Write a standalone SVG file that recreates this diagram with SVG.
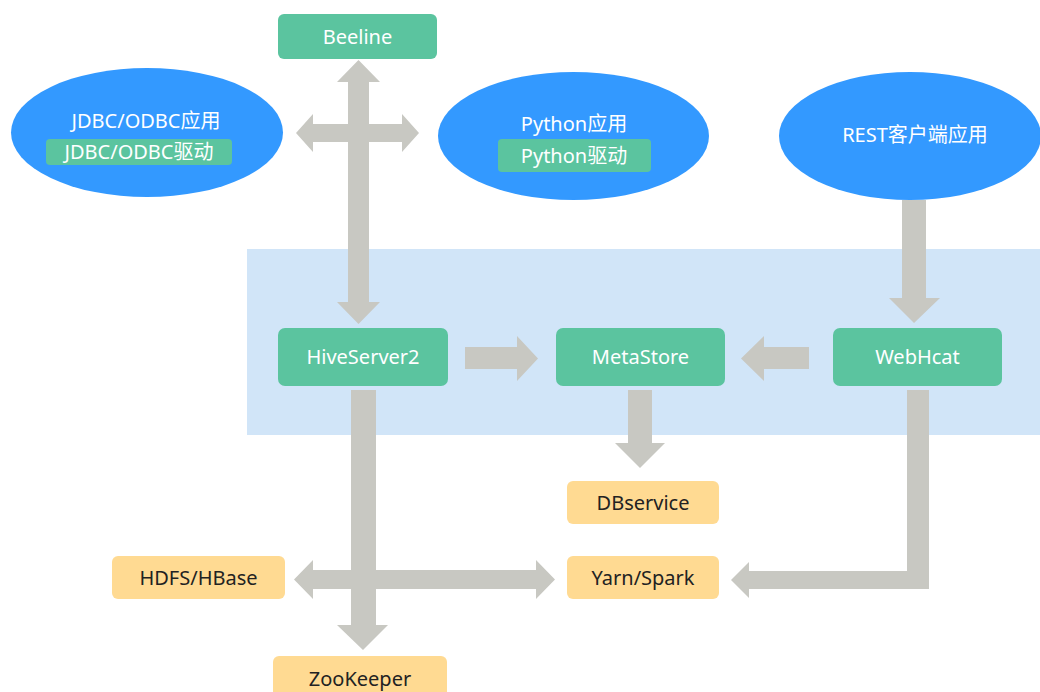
<svg xmlns="http://www.w3.org/2000/svg" width="1040" height="692" viewBox="0 0 1040 692">
<style>
text{font-family:"Noto Sans","Noto Sans CJK SC",sans-serif;font-size:20px;text-anchor:middle}
.w{fill:#ffffff}
.d{fill:#222222}
.g{fill:#5BC49F}
.o{fill:#FFDA92}
.b{fill:#3399FF}
.a{fill:#C8C8C2}
</style>
<rect x="247" y="249" width="793" height="186" fill="#D1E5F8"/>
<g id="connectors">
<polygon class="a" points="358.5,60 380,82 369,82 369,302 380,302 358.5,324 337,302 348,302 348,82 337,82"/>
<polygon class="a" points="296,133 313,114 313,124 402,124 402,114 419,133 402,152 402,142 313,142 313,152"/>
<polygon class="a" points="465,347 517,347 517,336 538,358.5 517,381 517,369 465,369"/>
<polygon class="a" points="809,347 764,347 764,336 741,358.5 764,381 764,369 809,369"/>
<polygon class="a" points="902,200 926,200 926,298 940,298 914,323 889,298 902,298"/>
<polygon class="a" points="628,390 652,390 652,443 665,443 640,468 615,443 628,443"/>
<polygon class="a" points="351,390 376,390 376,625 388,625 363,650 337,625 351,625"/>
<polygon class="a" points="294,579.5 313,560 313,570 536,570 536,560 555,579.5 536,599 536,589 313,589 313,599"/>
<polygon class="a" points="907,390 929,390 929,589 749,589 749,598 731,580 749,562 749,571 907,571"/>
</g>
<g id="beeline"><rect class="g" x="278" y="14" width="159" height="45" rx="6"/><text class="w" x="357.5" y="44">Beeline</text></g>
<g id="jdbc"><ellipse class="b" cx="147" cy="132.5" rx="136" ry="64.5"/><text class="w" x="146" y="128">JDBC/ODBC应用</text><rect class="g" x="46" y="139" width="186" height="26" rx="4"/><text class="w" x="139" y="159">JDBC/ODBC驱动</text></g>
<g id="python"><ellipse class="b" cx="573.5" cy="136" rx="135.5" ry="64"/><text class="w" x="574" y="131">Python应用</text><rect class="g" x="498" y="139" width="153" height="33" rx="4"/><text class="w" x="574" y="163">Python驱动</text></g>
<g id="rest"><ellipse class="b" cx="910" cy="136" rx="131" ry="64"/><text class="w" x="915" y="142">REST客户端应用</text></g>
<g id="hiveserver2"><rect class="g" x="278" y="328" width="170" height="58" rx="7"/><text class="w" x="363" y="364">HiveServer2</text></g>
<g id="metastore"><rect class="g" x="556" y="328" width="169" height="58" rx="7"/><text class="w" x="640.5" y="364">MetaStore</text></g>
<g id="webhcat"><rect class="g" x="833" y="328" width="169" height="58" rx="7"/><text class="w" x="917.5" y="364">WebHcat</text></g>
<g id="dbservice"><rect class="o" x="567" y="481" width="152" height="43" rx="6"/><text class="d" x="643" y="510">DBservice</text></g>
<g id="yarnspark"><rect class="o" x="567" y="556" width="152" height="43" rx="6"/><text class="d" x="643" y="585">Yarn/Spark</text></g>
<g id="hdfshbase"><rect class="o" x="112" y="556" width="173" height="43" rx="6"/><text class="d" x="198.5" y="585">HDFS/HBase</text></g>
<g id="zookeeper"><rect class="o" x="273" y="656" width="174" height="50" rx="6"/><text class="d" x="360" y="686">ZooKeeper</text></g>
</svg>
